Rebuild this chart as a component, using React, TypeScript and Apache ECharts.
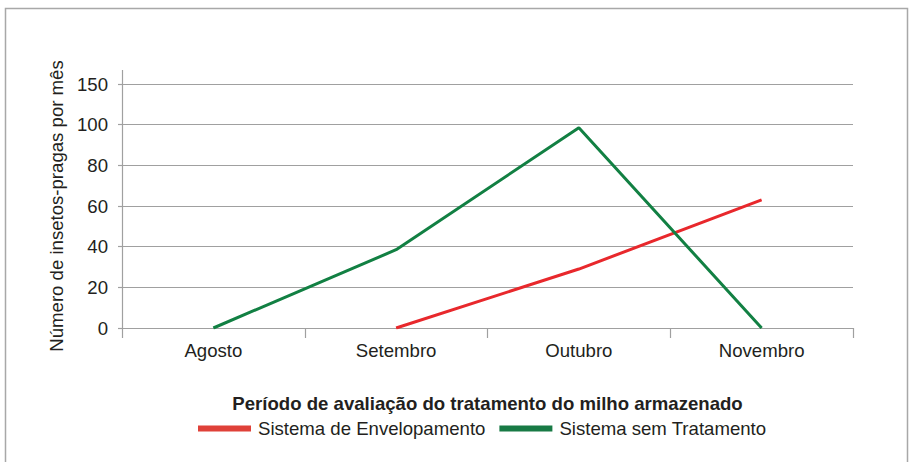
import React, { useEffect, useRef } from "react";
import * as echarts from "echarts";

const categories = ["Agosto", "Setembro", "Outubro", "Novembro"];
const envelopamento: (number | null)[] = [null, 0, 29, 63];
const semTratamento: (number | null)[] = [0, 38.5, 98.5, 0];
const yTickValues = [0, 20, 40, 60, 80, 100, 120];
const yTickLabels = ["0", "20", "40", "60", "80", "100", "150"];

const FONT = "'Liberation Sans', Arial, Helvetica, sans-serif";
const TEXT = "#231f20";
const GRID = "#a0a0a0";
const FS = 18.6;

export default function App() {
  const ref = useRef<HTMLDivElement>(null);
  useEffect(() => {
    if (!ref.current) return;
    const chart = echarts.init(ref.current, undefined, { renderer: "svg" });
    chart.setOption({
      animation: false,
      backgroundColor: "#ffffff",
      textStyle: { fontFamily: FONT, color: TEXT },
      grid: { left: 122, right: 58, top: 84, bottom: 134, containLabel: false },
      graphic: [
        {
          type: "rect",
          shape: { x: 5.5, y: 8.5, width: 902, height: 470 },
          style: { fill: "none", stroke: "#a8a8a8", lineWidth: 1.5 },
          silent: true,
        },
        {
          type: "line",
          shape: { x1: 122.5, y1: 70, x2: 122.5, y2: 84 },
          style: { stroke: GRID, lineWidth: 1.2 },
          silent: true,
        },
      ],
      legend: {
        left: 193,
        top: 414,
        itemWidth: 53,
        itemHeight: 6,
        itemGap: 14,
        icon: "rect",
        textStyle: { fontFamily: FONT, fontSize: FS, color: TEXT, padding: [0, 0, 0, 2] },
        data: [
          { name: "Sistema de Envelopamento", itemStyle: { color: "#df4139" } },
          { name: "Sistema sem Tratamento", itemStyle: { color: "#187a45" } },
        ],
      },
      xAxis: {
        type: "category",
        data: categories,
        boundaryGap: true,
        name: "Período de avaliação do tratamento do milho armazenado",
        nameLocation: "middle",
        nameGap: 66,
        nameTextStyle: { fontFamily: FONT, fontSize: FS, fontWeight: "bold", color: TEXT },
        axisLine: { show: true, lineStyle: { color: GRID, width: 1.2 } },
        axisTick: { show: true, length: 10, alignWithLabel: false, lineStyle: { color: GRID, width: 1.2 } },
        axisLabel: { fontFamily: FONT, fontSize: FS, color: TEXT, margin: 13 },
        splitLine: { show: false },
      },
      yAxis: {
        type: "value",
        min: 0,
        max: 120,
        interval: 20,
        name: "Número de insetos-pragas por mês",
        nameLocation: "middle",
        nameGap: 39,
        nameRotate: 90,
        nameTextStyle: { fontFamily: FONT, fontSize: FS, color: TEXT },
        axisLine: { show: true, lineStyle: { color: GRID, width: 1.2 } },
        axisTick: { show: true, length: 4, lineStyle: { color: GRID, width: 1.2 } },
        axisLabel: {
          fontFamily: FONT,
          fontSize: FS,
          color: TEXT,
          margin: 14,
          formatter: (v: number) => {
            const i = yTickValues.indexOf(v);
            return i >= 0 ? yTickLabels[i] : "";
          },
        },
        splitLine: { show: true, lineStyle: { color: GRID, width: 1.2 } },
      },
      series: [
        {
          name: "Sistema de Envelopamento",
          type: "line",
          data: envelopamento,
          showSymbol: false,
          symbol: "none",
          lineStyle: { color: "#e8282c", width: 3 },
          itemStyle: { color: "#e8282c" },
          connectNulls: false,
        },
        {
          name: "Sistema sem Tratamento",
          type: "line",
          data: semTratamento,
          showSymbol: false,
          symbol: "none",
          lineStyle: { color: "#128043", width: 3 },
          itemStyle: { color: "#128043" },
        },
      ],
    });
    return () => chart.dispose();
  }, []);
  return (
    <div
      ref={ref}
      style={{ position: "fixed", left: 0, top: 0, width: 911, height: 462 }}
    />
  );
}
